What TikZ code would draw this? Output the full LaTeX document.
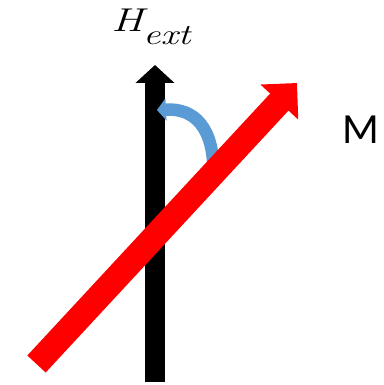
\documentclass[tikz,border=0pt]{standalone}
\usepackage{fontspec}
\newfontfamily\carlito{Carlito}
\usetikzlibrary{arrows.meta}
\definecolor{officeblue}{RGB}{91,155,213}
\tikzset{
  fieldarrow/.style={line width=20pt, draw=black, -{Triangle[width=38pt,length=18pt]}},
  magarrow/.style={line width=25pt, draw=red, -{Triangle[width=50pt,length=26pt]}},
  rotarrow/.style={line width=12.5pt, draw=officeblue, -{Triangle[width=22pt,length=9pt]}},
}
\begin{document}
\begin{tikzpicture}[x=1pt,y=-1pt]
\useasboundingbox (0,0) rectangle (383,385);
\coordinate (hb) at (155,382);
\coordinate (ht) at (155,65);
\coordinate (mb) at (36.5,364);
\coordinate (mt) at (297,83);
\coordinate (rs) at (213.5,172);
\coordinate (re) at (157,110);
\draw[fieldarrow] (hb) -- (ht);
\draw[rotarrow] (rs) .. controls (213.5,128) and (195,108) .. (re);
\draw[magarrow] (mb) -- (mt);
\node[anchor=base west, inner sep=0pt, xscale=1.33, font=\fontsize{33}{38}\selectfont\itshape] (hlabel) at (111,32) {H\raisebox{-13pt}{\fontsize{29}{30}\selectfont ext}};
\node[anchor=base west, inner sep=0pt, font=\fontsize{43}{50}\selectfont\carlito] (mlabel) at (342,143) {M};
\end{tikzpicture}
\end{document}
